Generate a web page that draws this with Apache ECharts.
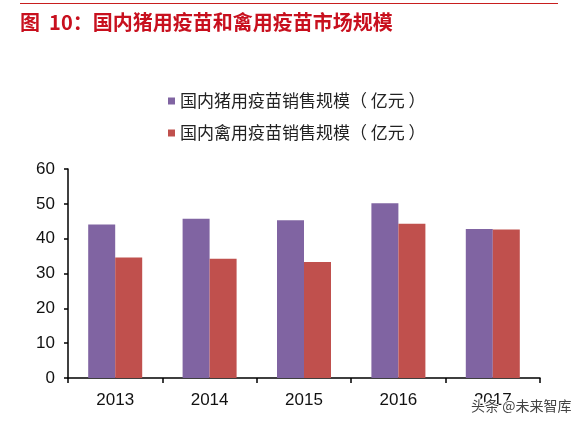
<!DOCTYPE html>
<html><head><meta charset="utf-8">
<script src="https://cdn.jsdelivr.net/npm/echarts@6/dist/echarts.min.js"></script>
<style>html,body{margin:0;padding:0;background:#fff}#c{width:588px;height:427px}</style>
</head><body><div id="c"></div>
<script>
const categories = ['2013', '2014', '2015', '2016', '2017'];
const pigVaccine = [44.1, 45.7, 45.3, 50.2, 42.8];
const poultryVaccine = [34.6, 34.2, 33.3, 44.3, 42.6];
const seriesNames = ['国内猪用疫苗销售规模（ 亿元 ）', '国内禽用疫苗销售规模（ 亿元 ）'];
const titleText = '图  10：国内猪用疫苗和禽用疫苗市场规模';
const watermark = '头条 @未来智库';

const chart = echarts.init(document.getElementById('c'));
const numFont = '"Liberation Sans", Arial, sans-serif';
const cjkFont = '"Noto Sans CJK SC", sans-serif';
chart.setOption({
  animation: false,
  backgroundColor: '#fff',
  graphic: [
    { type: 'line', shape: { x1: 20, y1: 3.5, x2: 558, y2: 3.5 }, style: { stroke: '#c81e1e', lineWidth: 1 } },
    { type: 'text', left: 20, top: 12, style: { text: titleText, fill: '#c8101e', font: 'bold 20px ' + cjkFont } },
    { type: 'text', left: 470, top: 398, style: { text: watermark, fill: '#444', font: '14px ' + cjkFont, stroke: '#fff', lineWidth: 2 }, z: 100 }
  ],
  legend: {
    orient: 'vertical', left: 163, top: 86,
    itemWidth: 7, itemHeight: 7, itemGap: 12, icon: 'rect',
    textStyle: { fontFamily: cjkFont, fontSize: 17, color: '#222', lineHeight: 20 },
    data: seriesNames
  },
  grid: { left: 68, right: 48, top: 169, bottom: 49, containLabel: false },
  xAxis: {
    type: 'category', data: categories,
    axisLine: { lineStyle: { color: '#000', width: 1.5 } },
    axisTick: { show: true, length: 5, lineStyle: { color: '#000', width: 1.5 } },
    axisLabel: { fontFamily: numFont, fontSize: 17, color: '#111', margin: 14 }
  },
  yAxis: {
    type: 'value', min: 0, max: 60, interval: 10,
    splitLine: { show: false },
    axisLine: { show: true, lineStyle: { color: '#000', width: 1.5 } },
    axisTick: { show: true, length: 4, lineStyle: { color: '#000', width: 1.5 } },
    axisLabel: { fontFamily: numFont, fontSize: 17, color: '#111', margin: 13 }
  },
  series: [
    { name: seriesNames[0], type: 'bar', data: pigVaccine, barWidth: 27, barGap: '0%', itemStyle: { color: '#8064a2' } },
    { name: seriesNames[1], type: 'bar', data: poultryVaccine, barWidth: 27, barGap: '0%', itemStyle: { color: '#c0504d' } }
  ]
});
</script></body></html>
